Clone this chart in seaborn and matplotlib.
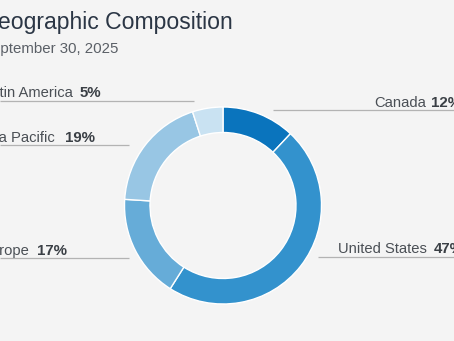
import matplotlib
matplotlib.use("Agg")
import matplotlib.pyplot as plt
import seaborn as sns

# Regional split of the portfolio, clockwise from 12 o'clock
regions = ["Canada", "United States", "Europe", "Asia Pacific", "Latin America"]
shares = [12, 47, 17, 19, 5]
colors = ["#0a74bd", "#3392cd", "#66acd8", "#98c6e4", "#c9e2f2"]

title = "Geographic Composition"
subtitle = "September 30, 2025"

BG = "#f4f4f4"
sns.set_theme(style="white", rc={"figure.facecolor": BG, "axes.facecolor": BG})
plt.rcParams["font.family"] = ["Liberation Sans", "DejaVu Sans"]

W, H = 454, 341
fig = plt.figure(figsize=(W / 100, H / 100), dpi=100)
ax = fig.add_axes([0, 0, 1, 1])
ax.set_xlim(0, W)
ax.set_ylim(0, H)
ax.set_aspect("equal")
ax.axis("off")


def Y(py):
    """Convert a top-down pixel row into data y."""
    return H - py


# Donut
cx, cy, r_out, r_in = 223, 205.5, 98.5, 73.0
ax.pie(
    shares,
    colors=colors,
    startangle=90,
    counterclock=False,
    center=(cx, Y(cy)),
    radius=r_out,
    wedgeprops=dict(width=r_out - r_in, edgecolor="white", linewidth=1.0),
    frame=True,
)
ax.set_xlim(0, W)
ax.set_ylim(0, H)
ax.axis("off")

# Titles
ax.text(233, Y(29), title, ha="right", va="baseline", fontsize=16.6,
        color="#2b3645")
ax.text(118, Y(52.5), subtitle, ha="right", va="baseline", fontsize=10.8,
        color="#5a5f66")

# Leader lines and labels: (name end x, pct start x, baseline, line x0, x1, line y)
label_layout = {
    "Latin America": (73, 80, 97, 0, 194, 101),
    "Asia Pacific": (55, 65, 142, 0, 129, 145),
    "Europe": (30, 37, 255, 0, 129, 258),
    "Canada": (426, 431, 107, 273, W, 110),
    "United States": (427, 434, 253, 318, W, 257),
}

for name, pct in zip(regions, shares):
    nx, px, base, x0, x1, ly = label_layout[name]
    ax.plot([x0, x1], [Y(ly), Y(ly)], color="#b3b3b3", lw=0.9,
            solid_capstyle="butt")
    ax.text(nx, Y(base), name, ha="right", va="baseline", fontsize=10.6,
            color="#4a4f55")
    ax.text(px, Y(base), f"{pct}%", ha="left", va="baseline", fontsize=10.8,
            fontweight="bold", color="#3a3f45")

fig.savefig("out.png", dpi=100, facecolor=BG)
